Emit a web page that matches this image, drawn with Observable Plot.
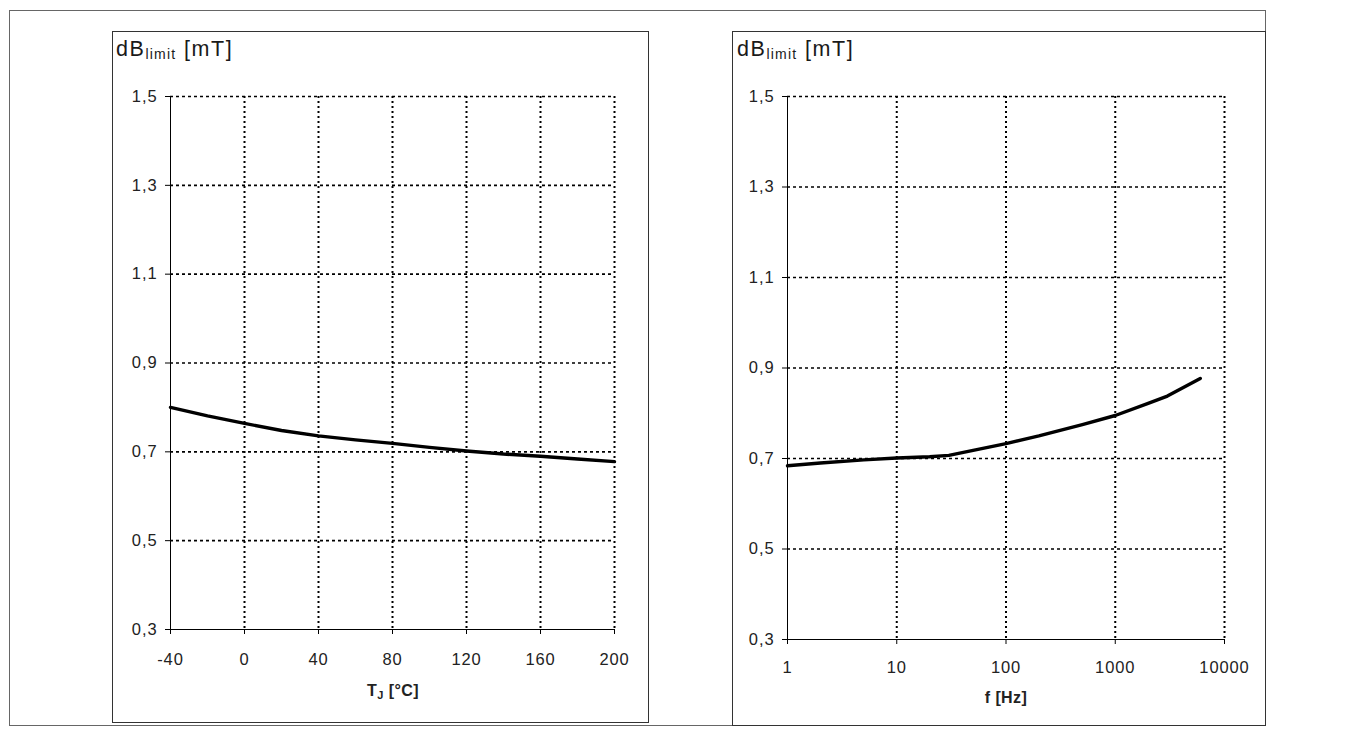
<!DOCTYPE html>
<html>
<head>
<meta charset="utf-8">
<script src="https://cdn.jsdelivr.net/npm/d3@7"></script>
<script src="https://cdn.jsdelivr.net/npm/@observablehq/plot@0.6"></script>
<style>
  body { margin: 0; background: #fff; font-family: "Liberation Sans", Arial, sans-serif; }
  #page { position: relative; width: 1360px; height: 733px; }
  .frame { position: absolute; box-sizing: border-box; }
  .abs { position: absolute; }
  .ylab { position: absolute; font-size: 21.5px; line-height: 21px; letter-spacing: 1.6px; color: #1a1a1a; white-space: nowrap; }
  .ylab span { font-size: 14px; vertical-align: -3px; letter-spacing: 1.2px; }
  .xlab { position: absolute; font-size: 16px; font-weight: bold; color: #222; white-space: nowrap; transform: translate(-50%, -50%); letter-spacing: 0.4px; }
  .xlab span { font-size: 11px; vertical-align: -3px; }
  #left svg text, #right svg text { letter-spacing: 0.9px; }
</style>
</head>
<body>
<div id="page">
  <div class="frame" style="left:9px;top:10px;width:1257px;height:716px;border:1px solid #666;"></div>
  <div class="frame" style="left:112px;top:31px;width:537px;height:692px;border:1px solid #333;"></div>
  <div class="frame" style="left:732px;top:31px;width:534px;height:695px;border:1px solid #333;"></div>
  <div class="ylab" style="left:116px;top:39px;">dB<span>limit</span> [mT]</div>
  <div class="ylab" style="left:737px;top:39px;">dB<span>limit</span> [mT]</div>
  <div class="xlab" style="left:393px;top:691px;">T<span>J</span> [°C]</div>
  <div class="xlab" style="left:1006px;top:698px;">f [Hz]</div>
  <div class="abs" id="left" style="left:112px;top:31px;"></div>
  <div class="abs" id="right" style="left:732px;top:31px;"></div>
</div>
<script>
// ---- data ----
const tempC = [-40, -20, 0, 20, 40, 60, 80, 100, 120, 140, 160, 180, 200];
const dBvsTemp = [0.800, 0.781, 0.764, 0.748, 0.736, 0.727, 0.719, 0.710, 0.702, 0.695, 0.690, 0.684, 0.678];
const freqHz = [1, 2, 5, 10, 20, 30, 50, 100, 200, 500, 1000, 2000, 3000, 6000];
const dBvsFreq = [0.684, 0.690, 0.697, 0.701, 0.704, 0.707, 0.718, 0.733, 0.750, 0.775, 0.795, 0.822, 0.838, 0.877];
const yTicks = [0.3, 0.5, 0.7, 0.9, 1.1, 1.3, 1.5];
const xTicksTemp = [-40, 0, 40, 80, 120, 160, 200];
const xTicksFreq = [1, 10, 100, 1000, 10000];

const fmtY = d => d.toFixed(1).replace(".", ",");
const font = "Liberation Sans, Arial, sans-serif";

function chart(opts) {
  const {data, xKey, yKey, xTicks, xType, xDomain, width, height, mTop, mRight, mBottom, mLeft, xPad} = opts;
  return Plot.plot({
    width, height,
    marginTop: mTop, marginRight: mRight, marginBottom: mBottom, marginLeft: mLeft,
    style: {fontFamily: font, background: "transparent", overflow: "visible"},
    x: {type: xType, domain: xDomain},
    y: {domain: [0.3, 1.5]},
    marks: [
      Plot.ruleX(xTicks.slice(1), {stroke: "#000", strokeWidth: 2, strokeDasharray: "2,3"}),
      Plot.ruleY(yTicks.slice(1), {stroke: "#000", strokeWidth: 1.6, strokeDasharray: "3,3"}),
      Plot.ruleX([xDomain[0]], {stroke: "#000", strokeWidth: 1}),
      Plot.ruleY([0.3], {stroke: "#000", strokeWidth: 1}),
      Plot.axisX({ticks: xTicks, tickFormat: d => String(d), tickSize: 5, tickPadding: xPad,
        fontSize: 16.5, label: null, color: "#222", stroke: "#000"}),
      Plot.axisY({ticks: yTicks, tickFormat: fmtY, tickSize: 5, tickPadding: 8,
        fontSize: 16.5, label: null, color: "#222", stroke: "#000"}),
      Plot.line(data, {x: xKey, y: yKey, stroke: "#000", strokeWidth: 3.4, curve: "linear"})
    ]
  });
}

const leftData = tempC.map((t, i) => ({t, v: dBvsTemp[i]}));
const rightData = freqHz.map((f, i) => ({f, v: dBvsFreq[i]}));

document.getElementById("left").append(chart({
  data: leftData, xKey: "t", yKey: "v", xTicks: xTicksTemp, xType: "linear", xDomain: [-40, 200],
  width: 536, height: 692, mTop: 65, mRight: 34, mBottom: 94, mLeft: 58, xPad: 19
}));
document.getElementById("right").append(chart({
  data: rightData, xKey: "f", yKey: "v", xTicks: xTicksFreq, xType: "log", xDomain: [1, 10000],
  width: 533, height: 694, mTop: 65, mRight: 41, mBottom: 86, mLeft: 55, xPad: 17
}));
</script>
</body>
</html>
